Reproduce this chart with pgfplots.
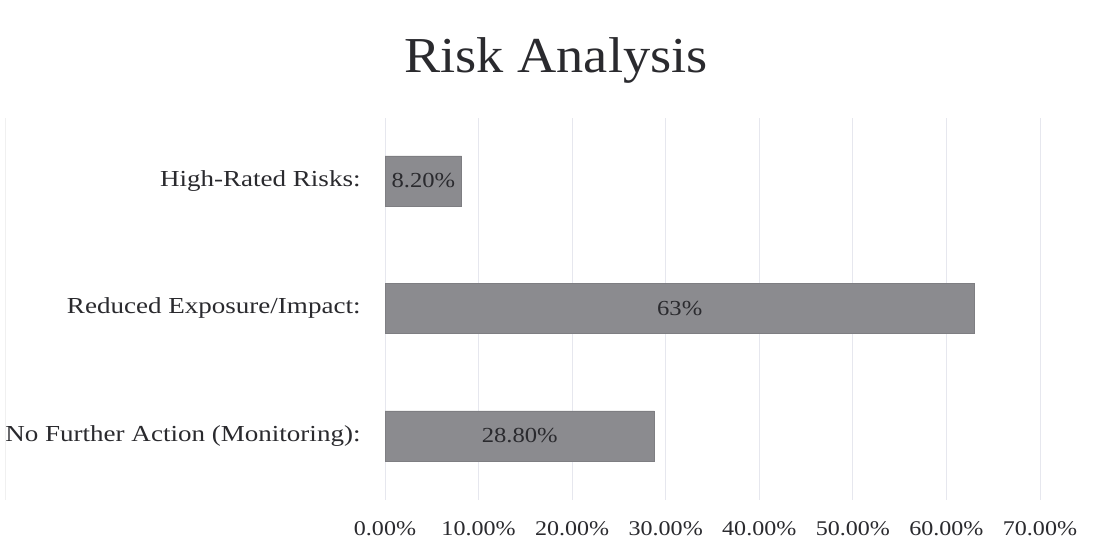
\documentclass[border=0pt]{standalone}
\usepackage{pgfplots}
\pgfplotsset{compat=1.18}
\usepackage{fontspec}
\setmainfont{Liberation Serif}[FakeStretch=1.08]
\newfontfamily\lblfont{Liberation Serif}[FakeStretch=1.18]
\newfontfamily\numfont{Liberation Serif}[FakeStretch=1.15]
\definecolor{barfill}{HTML}{8B8B8F}
\definecolor{baredge}{HTML}{7E7E82}
\definecolor{gridc}{HTML}{E6E7EE}
\definecolor{txt}{HTML}{2A2A2E}
\begin{document}
\begin{tikzpicture}[x=1bp,y=1bp]
  % page frame
  \path[fill=white] (0,0) rectangle (1097,551);
  \draw[black!6, line width=0.8bp] (5,51) -- (5,433);
  % title
  \node[anchor=base, font=\fontsize{50.5}{58}\selectfont, text=txt, inner sep=0pt]
    at (556,478) {Risk Analysis};
  \begin{axis}[
    at={(385bp,51bp)}, anchor=south west,
    scale only axis,
    width=655bp, height=382bp,
    xbar,
    bar width=50bp,
    xmin=0, xmax=70,
    ymin=-0.502, ymax=2.494,
    axis line style={draw=none},
    tick style={draw=none},
    xmajorgrids,
    grid style={gridc, line width=0.8bp},
    xtick={0,10,20,30,40,50,60,70},
    xticklabels={0.00\%,10.00\%,20.00\%,30.00\%,40.00\%,50.00\%,60.00\%,70.00\%},
    xticklabel style={anchor=base, yshift=-36bp, inner sep=0pt,
      font=\numfont\fontsize{21}{25}\selectfont, text=txt},
    ytick={0,1,2},
    yticklabels={No Further Action (Monitoring):, Reduced Exposure/Impact:, High-Rated Risks:},
    yticklabel style={anchor=east, xshift=-20bp, inner sep=0pt,
      font=\lblfont\fontsize{23}{27}\selectfont, text=txt},
    point meta=explicit symbolic,
    visualization depends on={x \as \rawx},
    nodes near coords,
    nodes near coords style={anchor=center, xshift={-\rawx*4.6786bp},
      font=\numfont\fontsize{21.5}{25}\selectfont, text=txt},
  ]
    \addplot[fill=barfill, draw=baredge, line width=0.6bp] coordinates {
      (28.8,0) [28.80\%]
      (63,1)   [63\%]
      (8.2,2)  [8.20\%]
    };
  \end{axis}
\end{tikzpicture}
\end{document}
